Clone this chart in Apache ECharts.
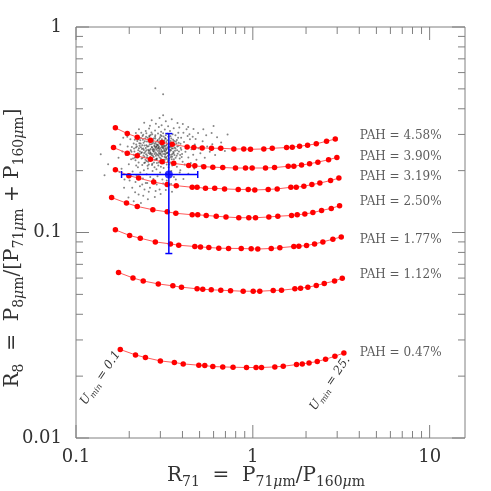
<!DOCTYPE html>
<html><head><meta charset="utf-8">
<script src="https://cdn.jsdelivr.net/npm/echarts@6/dist/echarts.min.js"></script>
<style>html,body{margin:0;padding:0;background:#fff}#c{width:491px;height:491px}</style>
</head><body><div id="c"></div>
<script>
// ---- axis ranges & ticks ----
const X_MIN = 0.1, X_MAX = 15.85, Y_MIN = 0.01, Y_MAX = 1;
const xMajorTicks = [0.1, 1, 10];
const xMinorTicks = [0.2,0.3,0.4,0.5,0.6,0.7,0.8,0.9,2,3,4,5,6,7,8,9];
const yMajorTicks = [0.01, 0.1, 1];
const yMinorTicks = [0.02,0.03,0.04,0.05,0.06,0.07,0.08,0.09,0.2,0.3,0.4,0.5,0.6,0.7,0.8,0.9];

// ---- model curves (one per PAH fraction), points at Umin = 0.1 ... 25 ----
const pahLabels = ['PAH = 4.58%','PAH = 3.90%','PAH = 3.19%','PAH = 2.50%','PAH = 1.77%','PAH = 1.12%','PAH = 0.47%'];
const x458 = [0.167,0.195,0.222,0.264,0.307,0.350,0.425,0.464,0.517,0.584,0.659,0.781,0.889,0.970,1.154,1.288,1.552,1.671,1.838,2.040,2.285,2.612,2.927];
const y458 = [0.323,0.303,0.291,0.281,0.274,0.269,0.261,0.259,0.258,0.257,0.257,0.255,0.255,0.254,0.255,0.257,0.259,0.260,0.263,0.266,0.270,0.278,0.285];
const x390 = [0.163,0.195,0.222,0.264,0.307,0.357,0.434,0.470,0.528,0.594,0.676,0.798,0.909,0.992,1.180,1.327,1.586,1.706,1.886,2.094,2.333,2.682,2.988];
const y390 = [0.259,0.243,0.236,0.227,0.221,0.217,0.212,0.211,0.209,0.208,0.207,0.206,0.206,0.206,0.206,0.207,0.210,0.210,0.213,0.216,0.220,0.226,0.232];
const x319 = [0.167,0.199,0.226,0.275,0.328,0.369,0.454,0.484,0.540,0.609,0.692,0.827,0.942,1.026,1.222,1.374,1.641,1.760,1.944,2.158,2.394,2.753,3.067];
const y319 = [0.202,0.189,0.184,0.176,0.171,0.169,0.166,0.166,0.164,0.164,0.163,0.162,0.162,0.161,0.162,0.163,0.166,0.166,0.168,0.171,0.174,0.179,0.184];
const x250 = [0.159,0.193,0.222,0.272,0.328,0.367,0.454,0.488,0.545,0.621,0.705,0.833,0.949,1.036,1.232,1.385,1.656,1.783,1.969,2.186,2.448,2.778,3.095];
const y250 = [0.148,0.139,0.134,0.129,0.126,0.124,0.122,0.122,0.121,0.120,0.119,0.118,0.118,0.118,0.119,0.120,0.121,0.122,0.123,0.125,0.128,0.131,0.135];
const x177 = [0.167,0.201,0.231,0.281,0.342,0.381,0.470,0.506,0.564,0.642,0.729,0.860,0.979,1.067,1.271,1.422,1.706,1.821,2.013,2.235,2.490,2.836,3.164];
const y177 = [0.1030,0.0967,0.0938,0.0900,0.0880,0.0867,0.0855,0.0851,0.0845,0.0839,0.0837,0.0836,0.0833,0.0831,0.0836,0.0843,0.0855,0.0858,0.0864,0.0880,0.0900,0.0928,0.0952];
const x112 = [0.174,0.210,0.240,0.292,0.353,0.395,0.484,0.521,0.582,0.659,0.748,0.882,1.005,1.095,1.304,1.453,1.729,1.862,2.048,2.285,2.536,2.900,3.205];
const y112 = [0.0639,0.0601,0.0581,0.0562,0.0550,0.0542,0.0532,0.0530,0.0526,0.0524,0.0521,0.0518,0.0518,0.0518,0.0522,0.0524,0.0532,0.0536,0.0542,0.0552,0.0565,0.0581,0.0599];
const x047 = [0.178,0.217,0.247,0.300,0.360,0.404,0.495,0.535,0.594,0.676,0.773,0.921,1.043,1.120,1.332,1.486,1.767,1.904,2.080,2.314,2.579,2.912,3.273];
const y047 = [0.02696,0.02537,0.02464,0.02372,0.02330,0.02294,0.02260,0.02252,0.02227,0.02218,0.02210,0.02203,0.02203,0.02203,0.02218,0.02234,0.02277,0.02294,0.02320,0.02356,0.02417,0.02500,0.02595];
const labelX = 4.02;
const labelY = [0.294,0.2333,0.1858,0.1409,0.0920,0.0625,0.02607];
const uminTexts = ['0.1', '25.'];

// ---- observed mean with error bars ----
const obsX = 0.335, obsY = 0.1915, obsXLo = 0.181, obsXHi = 0.488, obsYLo = 0.079, obsYHi = 0.303;

// ---- observed pixel cloud (estimated) ----
const cloudPoints = [
[0.221,0.262],[0.226,0.284],[0.229,0.241],[0.232,0.271],[0.235,0.229],[0.238,0.295],[0.240,0.256],[0.243,0.218],[0.245,0.278],[0.247,0.247],
[0.250,0.266],[0.252,0.232],[0.254,0.289],[0.256,0.253],[0.258,0.214],[0.260,0.274],[0.262,0.241],[0.264,0.298],[0.266,0.226],[0.268,0.261],
[0.270,0.283],[0.272,0.236],[0.274,0.255],[0.276,0.219],[0.278,0.270],[0.280,0.292],[0.282,0.245],[0.284,0.228],[0.286,0.263],[0.288,0.279],
[0.290,0.239],[0.292,0.212],[0.294,0.257],[0.296,0.286],[0.298,0.248],[0.300,0.224],[0.302,0.268],[0.305,0.295],[0.307,0.235],[0.309,0.258],
[0.312,0.276],[0.314,0.217],[0.316,0.249],[0.319,0.288],[0.321,0.231],[0.323,0.265],[0.326,0.243],[0.328,0.281],[0.331,0.222],[0.333,0.256],
[0.336,0.272],[0.339,0.238],[0.342,0.294],[0.345,0.251],[0.348,0.227],[0.351,0.267],[0.354,0.283],[0.357,0.244],[0.361,0.259],[0.364,0.215],
[0.367,0.277],[0.371,0.236],[0.374,0.262],[0.378,0.289],[0.382,0.248],[0.386,0.229],[0.390,0.270],[0.394,0.253],[0.398,0.241],[0.225,0.251],
[0.233,0.260],[0.241,0.237],[0.249,0.292],[0.257,0.244],[0.265,0.276],[0.273,0.249],[0.281,0.258],[0.289,0.267],[0.297,0.232],[0.304,0.252],
[0.311,0.241],[0.318,0.263],[0.325,0.254],[0.332,0.246],[0.340,0.261],[0.347,0.239],[0.355,0.273],[0.363,0.250],[0.372,0.282],[0.380,0.264],
[0.236,0.246],[0.244,0.265],[0.253,0.237],[0.261,0.251],[0.269,0.242],[0.277,0.264],[0.285,0.253],[0.293,0.275],[0.301,0.243],[0.310,0.262],
[0.317,0.234],[0.324,0.276],[0.334,0.263],[0.344,0.233],[0.353,0.256],[0.362,0.268],[0.228,0.272],[0.239,0.283],[0.251,0.223],[0.263,0.233],
[0.275,0.287],[0.287,0.218],[0.299,0.279],[0.313,0.293],[0.327,0.228],[0.343,0.279],[0.358,0.227],[0.376,0.242],[0.391,0.258],[0.271,0.271],
[0.283,0.236],[0.295,0.262],[0.306,0.284],[0.320,0.247],[0.335,0.252],[0.259,0.281],[0.247,0.226],[0.291,0.249],[0.279,0.226],[0.315,0.271],
[0.214,0.248],[0.219,0.268],[0.223,0.236],[0.227,0.257],[0.231,0.281],[0.234,0.244],[0.237,0.266],[0.242,0.252],[0.246,0.287],[0.249,0.240],
[0.253,0.262],[0.255,0.229],[0.258,0.249],[0.261,0.268],[0.264,0.255],[0.267,0.238],[0.270,0.259],[0.273,0.276],[0.276,0.247],[0.279,0.262],
[0.282,0.273],[0.285,0.241],[0.288,0.256],[0.291,0.266],[0.294,0.244],[0.297,0.271],[0.300,0.257],[0.303,0.238],[0.306,0.266],[0.309,0.248],
[0.313,0.258],[0.316,0.281],[0.320,0.239],[0.323,0.251],[0.327,0.268],[0.331,0.236],[0.335,0.261],[0.339,0.248],[0.343,0.269],[0.348,0.257],
[0.352,0.242],[0.356,0.265],[0.360,0.238],[0.365,0.256],[0.370,0.271],[0.217,0.225],[0.222,0.279],[0.226,0.219],[0.230,0.248],[0.233,0.288],
[0.237,0.213],[0.241,0.273],[0.244,0.233],[0.248,0.258],[0.252,0.277],[0.256,0.221],[0.260,0.292],[0.263,0.246],[0.266,0.269],[0.269,0.227],
[0.272,0.281],[0.275,0.233],[0.278,0.252],[0.281,0.287],[0.284,0.261],[0.287,0.229],[0.290,0.282],[0.293,0.236],[0.296,0.253],[0.299,0.291],
[0.302,0.229],[0.305,0.261],[0.308,0.277],[0.311,0.226],[0.315,0.253],[0.318,0.242],[0.322,0.286],[0.325,0.233],[0.329,0.259],[0.333,0.271],
[0.337,0.229],[0.341,0.253],[0.346,0.287],[0.350,0.234],[0.355,0.247],[0.359,0.279],[0.366,0.231],[0.373,0.251],[0.381,0.273],[0.388,0.238],
[0.212,0.239],[0.218,0.259],[0.224,0.243],[0.229,0.264],[0.236,0.255],[0.243,0.244],[0.250,0.251],[0.257,0.263],[0.264,0.243],[0.271,0.253],
[0.278,0.241],[0.285,0.268],[0.292,0.259],[0.298,0.241],[0.306,0.247],[0.314,0.264],[0.321,0.257],[0.328,0.244],[0.336,0.241],[0.345,0.262],
[0.238,0.231],[0.246,0.219],[0.254,0.211],[0.262,0.224],[0.270,0.216],[0.278,0.208],[0.286,0.226],[0.294,0.219],[0.302,0.209],[0.310,0.219],
[0.318,0.226],[0.326,0.214],[0.334,0.224],[0.342,0.219],[0.350,0.212],[0.240,0.299],[0.250,0.304],[0.260,0.296],[0.270,0.301],[0.281,0.297],
[0.291,0.303],[0.301,0.298],[0.311,0.304],[0.322,0.297],[0.333,0.292],[0.207,0.261],[0.210,0.229],[0.204,0.251],[0.215,0.283],[0.219,0.212],
[0.192,0.238],[0.196,0.262],[0.199,0.215],[0.203,0.284],[0.206,0.247],[0.209,0.198],[0.212,0.271],[0.215,0.231],[0.218,0.305],[0.220,0.189],
[0.224,0.208],[0.227,0.318],[0.231,0.196],[0.234,0.306],[0.239,0.183],[0.242,0.201],[0.248,0.312],[0.251,0.192],[0.255,0.205],[0.259,0.321],
[0.263,0.186],[0.267,0.307],[0.271,0.199],[0.276,0.176],[0.280,0.314],[0.285,0.203],[0.289,0.188],[0.294,0.326],[0.299,0.196],[0.303,0.309],
[0.308,0.181],[0.313,0.206],[0.318,0.317],[0.323,0.193],[0.329,0.302],[0.334,0.208],[0.340,0.312],[0.346,0.199],[0.352,0.301],[0.358,0.186],
[0.365,0.297],[0.372,0.209],[0.379,0.306],[0.386,0.196],[0.393,0.289],[0.401,0.221],[0.408,0.276],[0.416,0.247],[0.424,0.263],[0.432,0.232],
[0.441,0.284],[0.450,0.254],[0.460,0.239],[0.470,0.268],[0.480,0.226],[0.492,0.257],[0.505,0.243],[0.412,0.214],[0.428,0.295],[0.446,0.218],
[0.205,0.227],[0.213,0.256],[0.217,0.176],[0.223,0.294],[0.230,0.168],[0.237,0.171],[0.244,0.162],[0.253,0.174],[0.262,0.165],[0.274,0.182],
[0.286,0.171],[0.297,0.162],[0.311,0.173],[0.326,0.179],[0.345,0.172],[0.367,0.181],[0.389,0.201],[0.405,0.306],[0.422,0.318],[0.438,0.301],
[0.457,0.292],[0.475,0.285],[0.195,0.292],[0.201,0.179],[0.208,0.165],[0.216,0.157],[0.226,0.153],[0.240,0.151],[0.258,0.158],[0.282,0.159],
[0.305,0.333],[0.283,0.338],[0.262,0.331],[0.332,0.329],[0.357,0.322],[0.384,0.324],[0.248,0.174],[0.269,0.213],[0.337,0.214],[0.396,0.233],
[0.174,0.231],[0.178,0.268],[0.181,0.204],[0.185,0.289],[0.188,0.181],[0.183,0.248],[0.176,0.197],[0.187,0.165],[0.198,0.148],[0.212,0.142],
[0.233,0.139],[0.255,0.145],[0.279,0.149],[0.301,0.154],[0.322,0.161],[0.349,0.158],[0.376,0.167],[0.520,0.278],[0.535,0.231],[0.552,0.262],
[0.571,0.247],[0.590,0.269],[0.612,0.238],[0.638,0.256],[0.662,0.274],[0.695,0.249],[0.545,0.297],[0.585,0.305],[0.628,0.291],[0.513,0.212],
[0.268,0.352],[0.297,0.361],[0.322,0.348],[0.348,0.356],[0.375,0.341],[0.402,0.337],[0.431,0.326],[0.462,0.319],[0.243,0.342],[0.311,0.372],
[0.490,0.305],[0.525,0.318],[0.466,0.205],[0.432,0.193],[0.405,0.182],
[0.281,0.503],[0.311,0.471],[0.138,0.240],[0.145,0.190],[0.152,0.215],[0.165,0.262],[0.720,0.300],[0.600,0.330]
];

// ---- styling ----
const AX = '#808080';
const TXT = '#333';
const SERIF = 'DejaVu Serif';
const MAJOR_LEN = 13, MINOR_LEN = 7;

function zip(xs, ys) { return xs.map((x, i) => [x, ys[i]]); }
const curves = [[x458,y458],[x390,y390],[x319,y319],[x250,y250],[x177,y177],[x112,y112],[x047,y047]];

function isPow10(v) { const l = Math.log10(v); return Math.abs(l - Math.round(l)) < 1e-6; }

function tickSeries(values, isX, len) {
  return {
    type: 'custom', silent: true, animation: false, z: 6, clip: false,
    data: values.map(v => isX ? [v, Y_MIN] : [X_MIN, v]),
    renderItem(params, api) {
      const st = { stroke: AX, lineWidth: 1 };
      if (isX) {
        const v = api.value(0);
        const b = api.coord([v, Y_MIN]), t = api.coord([v, Y_MAX]);
        return { type: 'group', children: [
          { type: 'line', shape: { x1: b[0], y1: b[1], x2: b[0], y2: b[1] - len }, style: st },
          { type: 'line', shape: { x1: t[0], y1: t[1], x2: t[0], y2: t[1] + len }, style: st }
        ]};
      } else {
        const v = api.value(1);
        const l = api.coord([X_MIN, v]), r = api.coord([X_MAX, v]);
        return { type: 'group', children: [
          { type: 'line', shape: { x1: l[0], y1: l[1], x2: l[0] + len, y2: l[1] }, style: st },
          { type: 'line', shape: { x1: r[0], y1: r[1], x2: r[0] - len, y2: r[1] }, style: st }
        ]};
      }
    }
  };
}

const series = [];
series.push(tickSeries(xMajorTicks, true, MAJOR_LEN));
series.push(tickSeries(xMinorTicks, true, MINOR_LEN));
series.push(tickSeries(yMajorTicks, false, MAJOR_LEN));
series.push(tickSeries(yMinorTicks, false, MINOR_LEN));

series.push({
  type: 'scatter', data: cloudPoints, symbolSize: 2, z: 1, silent: true,
  itemStyle: { color: 'rgba(10,10,10,0.62)' }
});

curves.forEach((c, i) => {
  series.push({
    type: 'line', data: zip(c[0], c[1]), z: 3, silent: true,
    symbol: 'circle', symbolSize: 5.5, showSymbol: true, showAllSymbol: true,
    itemStyle: { color: '#ff0000' },
    lineStyle: { color: '#ff5a5a', width: 1 }
  });
});

series.push({
  type: 'scatter', z: 4, silent: true, symbolSize: 0,
  data: labelY.map((y, i) => ({ value: [labelX, y], name: pahLabels[i] })),
  label: { show: true, position: 'right', distance: 0, formatter: p => p.name,
           fontFamily: SERIF, fontSize: 12, color: TXT }
});

// Umin annotations at the ends of the lowest curve
series.push({
  type: 'custom', z: 4, silent: true, clip: false,
  data: [[x047[0], y047[0]], [x047[x047.length - 1], y047[y047.length - 1]]],
  renderItem(params, api) {
    const p = api.coord([api.value(0), api.value(1)]);
    const off = params.dataIndex === 0 ? [-2, 3] : [4, 5];
    return {
      type: 'text', x: p[0] + off[0], y: p[1] + off[1], rotation: 56 * Math.PI / 180,
      style: {
        text: '{u|U}{s|min}{n| = ' + uminTexts[params.dataIndex] + '}',
        align: 'right', verticalAlign: 'middle', fill: TXT,
        rich: {
          u: { fontFamily: SERIF, fontSize: 12, fontStyle: 'italic', lineHeight: 13, verticalAlign: 'top', fill: TXT },
          s: { fontFamily: SERIF, fontSize: 8, fontStyle: 'italic', lineHeight: 9, padding: [6, 0, 0, 0], verticalAlign: 'top', fill: TXT },
          n: { fontFamily: SERIF, fontSize: 12, fontStyle: 'italic', lineHeight: 13, verticalAlign: 'top', fill: TXT }
        }
      }
    };
  }
});

// observed mean with error bars
series.push({
  type: 'custom', z: 7, silent: true, clip: false,
  data: [[obsX, obsY, obsXLo, obsXHi, obsYLo, obsYHi]],
  renderItem(params, api) {
    const cy = api.value(1), cx = api.value(0);
    const l = api.coord([api.value(2), cy]), r = api.coord([api.value(3), cy]);
    const b = api.coord([cx, api.value(4)]), t = api.coord([cx, api.value(5)]);
    const st = { stroke: '#0000ff', lineWidth: 1.5 };
    const cap = 3.5;
    return { type: 'group', children: [
      { type: 'line', shape: { x1: l[0], y1: l[1], x2: r[0], y2: r[1] }, style: st },
      { type: 'line', shape: { x1: l[0], y1: l[1] - cap, x2: l[0], y2: l[1] + cap }, style: st },
      { type: 'line', shape: { x1: r[0], y1: r[1] - cap, x2: r[0], y2: r[1] + cap }, style: st },
      { type: 'line', shape: { x1: b[0], y1: b[1], x2: t[0], y2: t[1] }, style: st },
      { type: 'line', shape: { x1: b[0] - cap, y1: b[1], x2: b[0] + cap, y2: b[1] }, style: st },
      { type: 'line', shape: { x1: t[0] - cap, y1: t[1], x2: t[0] + cap, y2: t[1] }, style: st }
    ]};
  }
});
series.push({
  type: 'scatter', z: 8, silent: true, data: [[obsX, obsY]], symbolSize: 8,
  itemStyle: { color: '#0000ff' }
});

const titleRich = {
  m: { fontFamily: SERIF, fontSize: 20, lineHeight: 21, verticalAlign: 'top', fill: TXT },
  s: { fontFamily: SERIF, fontSize: 14, lineHeight: 15, padding: [10, 0, 0, 0], verticalAlign: 'top', fill: TXT },
  mu: { fontFamily: SERIF, fontSize: 14, fontStyle: 'italic', lineHeight: 15, padding: [10, 0, 0, 0], verticalAlign: 'top', fill: TXT }
};

const option = {
  animation: false,
  backgroundColor: '#fff',
  grid: { left: 76, right: 26, top: 27, bottom: 53, show: true, borderColor: AX, borderWidth: 1, backgroundColor: 'transparent' },
  xAxis: {
    type: 'log', logBase: 10, min: X_MIN, max: X_MAX,
    axisLine: { show: false }, axisTick: { show: false }, splitLine: { show: false }, minorTick: { show: false },
    axisLabel: { show: true, margin: 10, fontFamily: SERIF, fontSize: 18, color: TXT,
                 showMinLabel: true, showMaxLabel: true,
                 formatter: v => isPow10(v) ? String(+v.toPrecision(3)) : '' }
  },
  yAxis: {
    type: 'log', logBase: 10, min: Y_MIN, max: Y_MAX,
    axisLine: { show: false }, axisTick: { show: false }, splitLine: { show: false }, minorTick: { show: false },
    axisLabel: { show: true, margin: 14, fontFamily: SERIF, fontSize: 18, color: TXT,
                 showMinLabel: true, showMaxLabel: true,
                 formatter: v => isPow10(v) ? String(+v.toPrecision(3)) : '' }
  },
  graphic: [
    { type: 'text', x: 266, y: 476, silent: true,
      style: { text: '{m|R}{s|71}{m|  =  P}{s|71}{mu|μ}{s|m}{m|/P}{s|160}{mu|μ}{s|m}',
               rich: titleRich, align: 'center', verticalAlign: 'middle', textAlign: 'center', textVerticalAlign: 'middle' } },
    { type: 'text', x: 13, y: 248, rotation: Math.PI / 2, silent: true,
      style: { text: '{m|R}{s|8}{m|  =  P}{s|8}{mu|μ}{s|m}{m|/[P}{s|71}{mu|μ}{s|m}{m| + P}{s|160}{mu|μ}{s|m}{m|]}',
               rich: titleRich, align: 'center', verticalAlign: 'middle', textAlign: 'center', textVerticalAlign: 'middle' } }
  ],
  series
};

const chart = echarts.init(document.getElementById('c'), null, { renderer: 'canvas' });
chart.setOption(option);
</script>
</body></html>
